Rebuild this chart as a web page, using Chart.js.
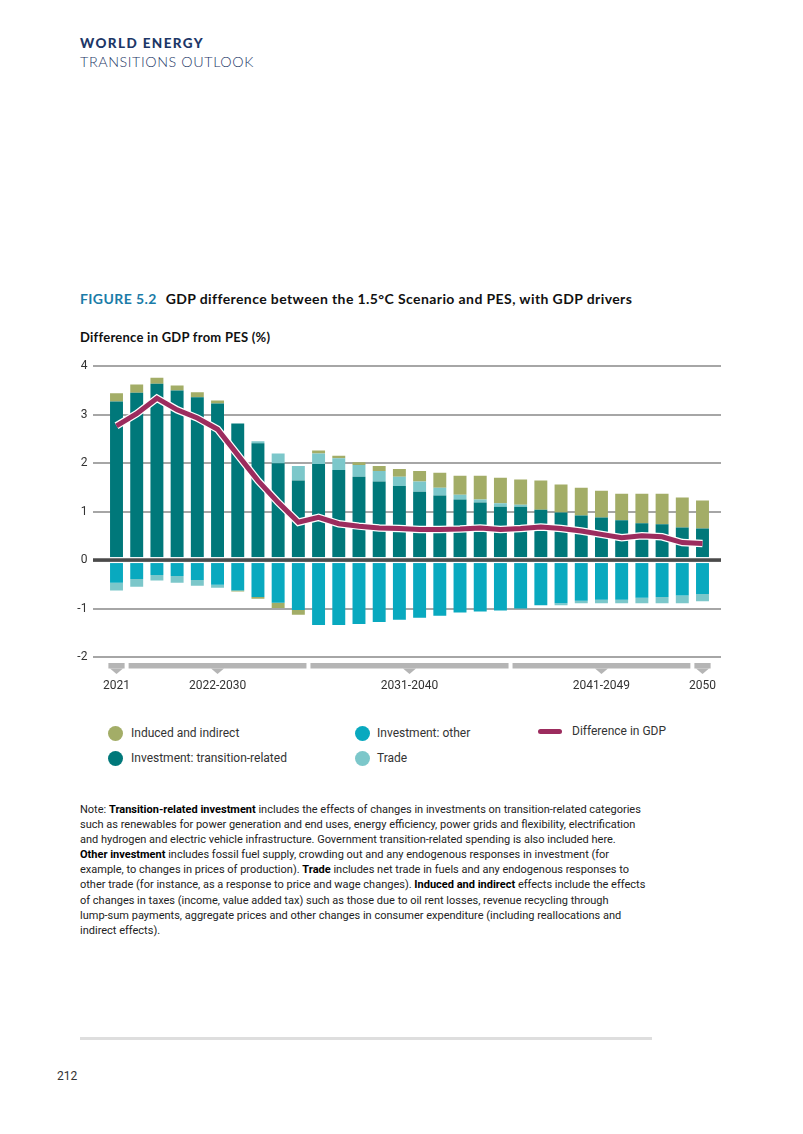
<!DOCTYPE html>
<html>
<head>
<meta charset="utf-8">
<script src="https://cdn.jsdelivr.net/npm/chart.js@4.4.1/dist/chart.umd.min.js"></script>
<style>
  body { margin: 0; background: #fff; font-family: Roboto, "Noto Sans", sans-serif; color: #333; }
  .page { position: relative; width: 803px; height: 1134px; overflow: hidden; }
  .abs { position: absolute; white-space: nowrap; }
  .brand1 { left: 80px; top: 35px; font-family: Lato, sans-serif; font-weight: 900; font-size: 13.5px; letter-spacing: 1.4px; color: #1d3767; }
  .brand2 { left: 80px; top: 53px; font-family: Lato, sans-serif; font-weight: 300; font-size: 14.3px; letter-spacing: 0.6px; color: #1d3767; }
  .figtitle { left: 80px; top: 290px; font-family: Lato, sans-serif; font-weight: 700; font-size: 14px; letter-spacing: 0.4px; color: #111; }
  .figtitle .num { color: #1b7ca8; margin-right: 9px; }
  .ytitle { left: 80px; top: 329px; font-family: Lato, sans-serif; font-weight: 700; font-size: 13px; letter-spacing: 0.25px; color: #111; }
  #chart { position: absolute; left: 0; top: 340px; }
  .leg { font-size: 12px; color: #333; line-height: 16px; }
  .dot { position: absolute; width: 15px; height: 15px; border-radius: 50%; }
  .lsym { position: absolute; width: 24px; height: 5px; border-radius: 3px; background: #9c2c5e; }
  .note { left: 80px; top: 802px; font-size: 11px; line-height: 15.1px; color: #222; }
  .note b { color: #000; }
  .rule { left: 80px; top: 1037px; width: 572px; height: 3px; background: #dedede; }
  .pnum { left: 57px; top: 1069px; font-size: 12px; color: #333; }
</style>
</head>
<body>
<div class="page">
  <div class="abs brand1">WORLD ENERGY</div>
  <div class="abs brand2">TRANSITIONS OUTLOOK</div>
  <div class="abs figtitle"><span class="num">FIGURE 5.2</span>GDP difference between the 1.5°C Scenario and PES, with GDP drivers</div>
  <div class="abs ytitle">Difference in GDP from PES (%)</div>

  <canvas id="chart" width="803" height="370"></canvas>

  <div class="dot" style="left:108px; top:726px; background:#a3ad67"></div>
  <div class="abs leg" style="left:131px; top:725px">Induced and indirect</div>
  <div class="dot" style="left:108px; top:751px; background:#00787a"></div>
  <div class="abs leg" style="left:131px; top:750px">Investment: transition-related</div>
  <div class="dot" style="left:355px; top:726px; background:#09a9bf"></div>
  <div class="abs leg" style="left:377px; top:725px">Investment: other</div>
  <div class="dot" style="left:355px; top:751px; background:#7cc7ca"></div>
  <div class="abs leg" style="left:377px; top:750px">Trade</div>
  <div class="lsym" style="left:538px; top:729px"></div>
  <div class="abs leg" style="left:572px; top:723px">Difference in GDP</div>

  <div class="abs note">
    Note: <b>Transition-related investment</b> includes the effects of changes in investments on transition-related categories<br>
    such as renewables for power generation and end uses, energy efficiency, power grids and flexibility, electrification<br>
    and hydrogen and electric vehicle infrastructure. Government transition-related spending is also included here.<br>
    <b>Other investment</b> includes fossil fuel supply, crowding out and any endogenous responses in investment (for<br>
    example, to changes in prices of production). <b>Trade</b> includes net trade in fuels and any endogenous responses to<br>
    other trade (for instance, as a response to price and wage changes). <b>Induced and indirect</b> effects include the effects<br>
    of changes in taxes (income, value added tax) such as those due to oil rent losses, revenue recycling through<br>
    lump-sum payments, aggregate prices and other changes in consumer expenditure (including reallocations and<br>
    indirect effects).
  </div>

  <div class="abs rule"></div>
  <div class="abs pnum">212</div>
</div>

<script>
// years on the x axis
const years = ['2021','2022','2023','2024','2025','2026','2027','2028','2029','2030',
  '2031','2032','2033','2034','2035','2036','2037','2038','2039','2040',
  '2041','2042','2043','2044','2045','2046','2047','2048','2049','2050'];

// GDP drivers, % difference from PES
const transitionInv = [3.27, 3.45, 3.64, 3.50, 3.36, 3.23, 2.82, 2.41, 2.00, 1.64,
  1.98, 1.86, 1.72, 1.62, 1.53, 1.41, 1.33, 1.25, 1.19, 1.10,
  1.10, 1.04, 0.98, 0.92, 0.88, 0.82, 0.76, 0.74, 0.67, 0.65];
const otherInv = [-0.47, -0.39, -0.31, -0.33, -0.41, -0.51, -0.63, -0.76, -0.88, -1.03,
  -1.34, -1.34, -1.32, -1.28, -1.23, -1.19, -1.15, -1.08, -1.06, -1.04,
  -1.00, -0.93, -0.89, -0.84, -0.82, -0.82, -0.78, -0.76, -0.73, -0.70];
const trade = [-0.16, -0.16, -0.11, -0.14, -0.12, -0.06, 0, 0.04, 0.20, 0.30,
  0.22, 0.24, 0.24, 0.22, 0.19, 0.21, 0.16, 0.10, 0.06, 0.07,
  0.04, 0, -0.04, -0.05, -0.07, -0.07, -0.11, -0.13, -0.16, -0.15];
const induced = [0.17, 0.17, 0.12, 0.10, 0.10, 0.06, -0.02, -0.04, -0.11, -0.10,
  0.06, 0.05, 0.06, 0.10, 0.16, 0.22, 0.31, 0.39, 0.49, 0.53,
  0.52, 0.60, 0.58, 0.57, 0.55, 0.55, 0.61, 0.63, 0.62, 0.58];
const gdpDiff = [2.77, 3.02, 3.34, 3.10, 2.93, 2.70, 2.17, 1.64, 1.19, 0.78,
  0.88, 0.75, 0.70, 0.66, 0.65, 0.63, 0.63, 0.64, 0.66, 0.63,
  0.65, 0.68, 0.65, 0.60, 0.53, 0.46, 0.50, 0.48, 0.36, 0.34];

// period brackets under the axis
const periodLabels = ['2021', '2022-2030', '2031-2040', '2041-2049', '2050'];
const periodFirst = ['2021', '2022', '2031', '2041', '2050'];
const periodLast = ['2021', '2030', '2040', '2049', '2050'];

const yTicks = [-2, -1, 0, 1, 2, 3, 4];

// grid lines, zero line and period brackets are drawn by hand
const decorPlugin = {
  id: 'decor',
  beforeDatasetsDraw(chart) {
    const ctx = chart.ctx, y = chart.scales.y;
    ctx.save();
    ctx.strokeStyle = '#a6a6a6';
    ctx.lineWidth = 2;
    yTicks.forEach(v => {
      if (v === 0) return;
      const py = Math.round(y.getPixelForValue(v));
      ctx.beginPath();
      ctx.moveTo(93, py);
      ctx.lineTo(721, py);
      ctx.stroke();
    });
    ctx.restore();
  },
  afterDatasetsDraw(chart) {
    const ctx = chart.ctx, y = chart.scales.y;
    const py = y.getPixelForValue(0);
    ctx.save();
    ctx.fillStyle = '#fff';
    ctx.fillRect(93, py - 3, 628, 6);
    ctx.fillStyle = '#4a4a4a';
    ctx.fillRect(93, py - 1.8, 628, 3.6);
    ctx.restore();
  },
  afterDraw(chart) {
    const ctx = chart.ctx, x = chart.scales.x;
    const half = (x.getPixelForValue(1) - x.getPixelForValue(0)) / 2;
    const top = chart.chartArea.bottom + 6;
    ctx.save();
    periodLabels.forEach((lab, i) => {
      const x0 = x.getPixelForValue(years.indexOf(periodFirst[i])) - half + 2;
      const x1 = x.getPixelForValue(years.indexOf(periodLast[i])) + half - 2;
      const cx = (x0 + x1) / 2;
      ctx.fillStyle = '#b5b5b5';
      ctx.fillRect(x0, top, x1 - x0, 5.5);
      ctx.beginPath();
      ctx.moveTo(cx - 6.5, top + 5.5);
      ctx.lineTo(cx + 6.5, top + 5.5);
      ctx.lineTo(cx, top + 11);
      ctx.closePath();
      ctx.fill();
      ctx.fillStyle = '#333';
      ctx.font = '12px Roboto';
      ctx.textAlign = 'center';
      ctx.textBaseline = 'middle';
      ctx.fillText(lab, cx, top + 23);
    });
    ctx.restore();
  }
};

const barStyle = { barPercentage: 0.64, categoryPercentage: 1, borderWidth: 0, order: 3 };

new Chart(document.getElementById('chart'), {
  type: 'bar',
  data: {
    labels: years,
    datasets: [
      Object.assign({ label: 'Investment: transition-related', data: transitionInv, backgroundColor: '#00787a' }, barStyle),
      Object.assign({ label: 'Investment: other', data: otherInv, backgroundColor: '#09a9bf' }, barStyle),
      Object.assign({ label: 'Trade', data: trade, backgroundColor: '#7cc7ca' }, barStyle),
      Object.assign({ label: 'Induced and indirect', data: induced, backgroundColor: '#a3ad67' }, barStyle),
      { type: 'line', label: 'outline', data: gdpDiff, yAxisID: 'y2', borderColor: '#ffffff',
        borderWidth: 7.5, pointRadius: 0, tension: 0, order: 2 },
      { type: 'line', label: 'Difference in GDP', data: gdpDiff, yAxisID: 'y2', borderColor: '#9c2c5e',
        borderWidth: 5, pointRadius: 0, tension: 0, order: 1 }
    ]
  },
  options: {
    responsive: false,
    animation: false,
    layout: { padding: { left: 60, right: 90.4, top: 25, bottom: 53 } },
    plugins: { legend: { display: false }, tooltip: { enabled: false } },
    scales: {
      x: { display: false, stacked: true },
      y: {
        stacked: true, min: -2, max: 4,
        afterBuildTicks(s) { s.ticks = yTicks.map(v => ({ value: v })); },
        afterFit(s) { s.width = 46.4; },
        ticks: { color: '#333', font: { family: 'Roboto', size: 12 }, padding: 19 },
        grid: { display: false, drawTicks: false },
        border: { display: false }
      },
      y2: { display: false, min: -2, max: 4 }
    }
  },
  plugins: [decorPlugin]
});
</script>
</body>
</html>
